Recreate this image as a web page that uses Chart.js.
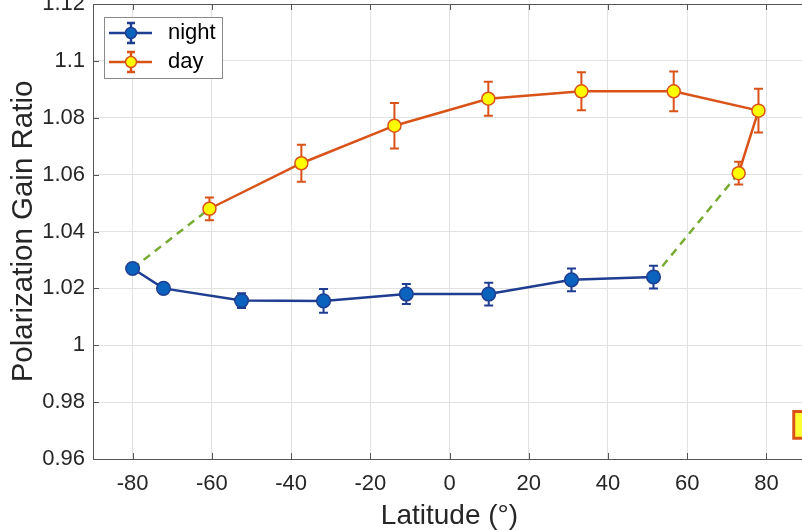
<!DOCTYPE html>
<html>
<head>
<meta charset="utf-8">
<script src="https://cdn.jsdelivr.net/npm/chart.js@4.4.1/dist/chart.umd.min.js"></script>
<style>
  html, body { margin: 0; padding: 0; background: #fff; overflow: hidden; width: 802px; height: 530px; }
  #wrap { position: absolute; left: 0; top: -20px; width: 830px; height: 550px; }
</style>
</head>
<body>
<div id="wrap"><canvas id="grafico" width="830" height="550"></canvas></div>
<script>
// Dados (latitude em graus, razão de ganho)
const nightLat = [-80, -72.2, -52.5, -31.8, -10.9, 9.9, 30.8, 51.5];
const nightGain = [1.027, 1.020, 1.0157, 1.0156, 1.018, 1.018, 1.023, 1.024];
const nightErr = [0.0008, 0.0017, 0.0026, 0.0042, 0.0035, 0.004, 0.004, 0.004];

const dayLat = [-60.6, -37.4, -13.9, 9.8, 33.3, 56.6, 78.0, 73.0];
const dayGain = [1.048, 1.064, 1.0772, 1.0867, 1.0893, 1.0893, 1.0825, 1.0605];
const dayErr = [0.004, 0.0065, 0.008, 0.006, 0.0067, 0.007, 0.0077, 0.004];

// ligações tracejadas entre as duas curvas
const bridgeSouthLat = [-80, -60.6];
const bridgeSouthGain = [1.027, 1.048];
const bridgeNorthLat = [51.5, 73.0];
const bridgeNorthGain = [1.024, 1.0605];

// marcador quadrado cortado na borda direita
const boxLat = [90.3];
const boxGain = [0.972];

const xTicks = [-80, -60, -40, -20, 0, 20, 40, 60, 80];
const xTickLabels = ['-80', '-60', '-40', '-20', '0', '20', '40', '60', '80'];
const yTicks = [0.96, 0.98, 1, 1.02, 1.04, 1.06, 1.08, 1.1, 1.12];
const yTickLabels = ['0.96', '0.98', '1', '1.02', '1.04', '1.06', '1.08', '1.1', '1.12'];

const cores = {
  night: '#1f3d91',
  nightFill: '#0b63be',
  day: '#d95319',
  dayFill: '#ffff00',
  bridge: '#77ac30',
  grid: '#e2e2e2',
  axis: '#555555',
  text: '#262626'
};

const fonte = '"Liberation Sans", Arial, sans-serif';

function pares(xs, ys) {
  return xs.map((x, i) => ({ x: x, y: ys[i] }));
}

// Barras de erro desenhadas a partir das escalas
const errorBarPlugin = {
  id: 'errorBars',
  beforeDatasetsDraw(chart) {
    const ctx = chart.ctx;
    const sx = chart.scales.x;
    const sy = chart.scales.y;
    chart.data.datasets.forEach(ds => {
      if (!ds.errors) return;
      ctx.save();
      ctx.strokeStyle = ds.borderColor;
      ctx.lineWidth = 2;
      ds.data.forEach((p, j) => {
        const px = sx.getPixelForValue(p.x);
        const top = sy.getPixelForValue(p.y + ds.errors[j]);
        const bot = sy.getPixelForValue(p.y - ds.errors[j]);
        ctx.beginPath();
        ctx.moveTo(px, top); ctx.lineTo(px, bot);
        ctx.moveTo(px - 4.5, top); ctx.lineTo(px + 4.5, top);
        ctx.moveTo(px - 4.5, bot); ctx.lineTo(px + 4.5, bot);
        ctx.stroke();
      });
      ctx.restore();
    });
  }
};

// Moldura estilo MATLAB: borda superior e marcas para dentro
const framePlugin = {
  id: 'frame',
  beforeDatasetsDraw(chart) {
    const ctx = chart.ctx;
    const a = chart.chartArea;
    const sx = chart.scales.x;
    const sy = chart.scales.y;
    ctx.save();
    ctx.strokeStyle = cores.axis;
    ctx.lineWidth = 1;
    ctx.beginPath();
    ctx.moveTo(a.left, a.top + 0.5); ctx.lineTo(a.right, a.top + 0.5);
    ctx.lineTo(a.right - 0.5, a.bottom);
    xTicks.forEach(v => {
      const px = Math.round(sx.getPixelForValue(v)) + 0.5;
      ctx.moveTo(px, a.bottom); ctx.lineTo(px, a.bottom - 6);
      ctx.moveTo(px, a.top); ctx.lineTo(px, a.top + 6);
    });
    yTicks.forEach(v => {
      const py = Math.round(sy.getPixelForValue(v)) + 0.5;
      ctx.moveTo(a.left, py); ctx.lineTo(a.left + 6, py);
    });
    ctx.stroke();
    ctx.restore();
  }
};

// Legenda dentro da área do gráfico
const legendPlugin = {
  id: 'legendBox',
  afterDraw(chart) {
    const ctx = chart.ctx;
    const a = chart.chartArea;
    const bx = a.left + 11, by = a.top + 13;
    ctx.save();
    ctx.fillStyle = '#fff';
    ctx.fillRect(bx, by, 118, 61);
    ctx.strokeStyle = '#8a8a8a';
    ctx.lineWidth = 1;
    ctx.strokeRect(bx + 0.5, by + 0.5, 118, 61);

    const itens = [
      { nome: 'night', linha: cores.night, fill: cores.nightFill, borda: cores.night, y: a.top + 29 },
      { nome: 'day', linha: cores.day, fill: cores.dayFill, borda: cores.day, y: a.top + 58 }
    ];
    itens.forEach(it => {
      const cx = a.left + 38;
      ctx.strokeStyle = it.linha;
      ctx.lineWidth = 2.5;
      ctx.beginPath();
      ctx.moveTo(a.left + 16, it.y); ctx.lineTo(a.left + 59, it.y);
      ctx.moveTo(cx, it.y - 10); ctx.lineTo(cx, it.y + 10);
      ctx.moveTo(cx - 4, it.y - 10); ctx.lineTo(cx + 4, it.y - 10);
      ctx.moveTo(cx - 4, it.y + 10); ctx.lineTo(cx + 4, it.y + 10);
      ctx.stroke();
      ctx.beginPath();
      ctx.arc(cx, it.y, 5.5, 0, Math.PI * 2);
      ctx.fillStyle = it.fill;
      ctx.fill();
      ctx.lineWidth = 1.5;
      ctx.strokeStyle = it.borda;
      ctx.stroke();
      ctx.fillStyle = '#000';
      ctx.font = '22px ' + fonte;
      ctx.textBaseline = 'middle';
      ctx.textAlign = 'left';
      ctx.fillText(it.nome, a.left + 75, it.y);
    });
    ctx.restore();
  }
};

const ctx = document.getElementById('grafico');

new Chart(ctx, {
  type: 'line',
  data: {
    datasets: [
      {
        label: 'night',
        data: pares(nightLat, nightGain),
        errors: nightErr,
        borderColor: cores.night,
        borderWidth: 2.5,
        pointRadius: 6.8,
        pointBackgroundColor: cores.nightFill,
        pointBorderColor: cores.night,
        pointBorderWidth: 1.5
      },
      {
        label: 'day',
        data: pares(dayLat, dayGain),
        errors: dayErr,
        borderColor: cores.day,
        borderWidth: 2.5,
        pointRadius: 6.5,
        pointBackgroundColor: cores.dayFill,
        pointBorderColor: cores.day,
        pointBorderWidth: 1.5
      },
      {
        label: 'box',
        data: pares(boxLat, boxGain),
        showLine: false,
        pointStyle: 'rect',
        pointRadius: 19,
        pointBackgroundColor: '#ffff33',
        pointBorderColor: cores.day,
        pointBorderWidth: 3,
        clip: false
      },
      {
        label: 'bridgeSouth',
        data: pares(bridgeSouthLat, bridgeSouthGain),
        borderColor: cores.bridge,
        borderWidth: 2.5,
        borderDash: [8, 6],
        pointRadius: 0
      },
      {
        label: 'bridgeNorth',
        data: pares(bridgeNorthLat, bridgeNorthGain),
        borderColor: cores.bridge,
        borderWidth: 2.5,
        borderDash: [8, 6],
        pointRadius: 0
      }
    ]
  },
  options: {
    responsive: false,
    animation: false,
    devicePixelRatio: 1,
    layout: { padding: { top: 24, right: 24, left: 0, bottom: 0 } },
    plugins: {
      legend: { display: false },
      tooltip: { enabled: false }
    },
    scales: {
      x: {
        type: 'linear',
        min: -90,
        max: 90,
        afterBuildTicks: s => { s.ticks = xTicks.map(v => ({ value: v })); },
        afterFit: s => { s.height = 71; },
        grid: { color: cores.grid, drawTicks: false },
        border: { color: cores.axis, width: 1 },
        ticks: {
          padding: 12,
          color: cores.text,
          font: { family: fonte, size: 22 },
          maxRotation: 0,
          callback: v => xTickLabels[xTicks.indexOf(v)]
        },
        title: {
          display: true,
          text: 'Latitude (°)',
          color: cores.text,
          font: { family: fonte, size: 28, lineHeight: 1 },
          padding: { top: 0, bottom: 0 }
        }
      },
      y: {
        type: 'linear',
        min: 0.96,
        max: 1.12,
        afterBuildTicks: s => { s.ticks = yTicks.map(v => ({ value: v })); },
        afterFit: s => { s.width = 93; },
        grid: { color: cores.grid, drawTicks: false },
        border: { color: cores.axis, width: 1 },
        ticks: {
          padding: 8,
          color: cores.text,
          font: { family: fonte, size: 22 },
          callback: v => yTickLabels[yTicks.indexOf(v)]
        },
        title: {
          display: true,
          text: 'Polarization Gain Ratio',
          color: cores.text,
          font: { family: fonte, size: 29.5, lineHeight: 1 },
          padding: { top: 9, bottom: 0 }
        }
      }
    }
  },
  plugins: [framePlugin, errorBarPlugin, legendPlugin]
});
</script>
</body>
</html>
